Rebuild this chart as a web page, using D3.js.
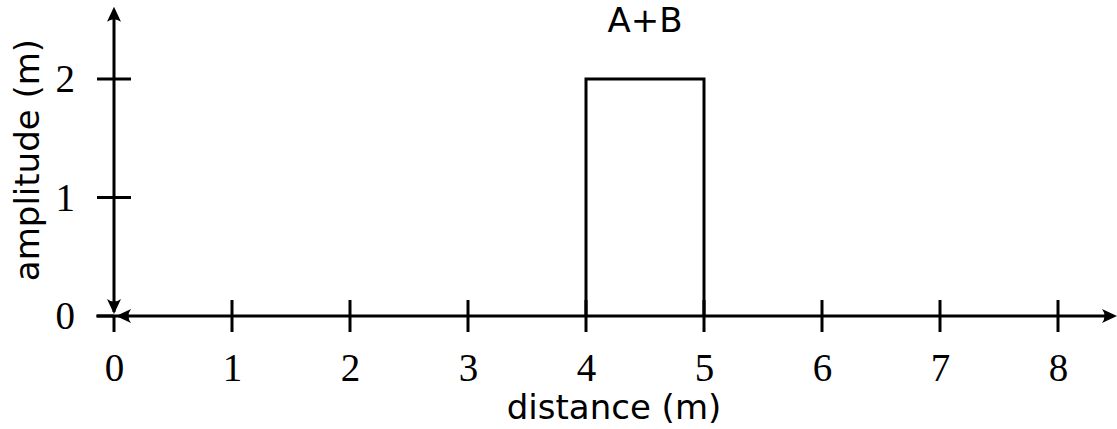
<!DOCTYPE html>
<html><head><meta charset="utf-8">
<script src="https://cdn.jsdelivr.net/npm/d3@7"></script>
<style>body{margin:0;background:#fff}svg{display:block}</style>
</head><body>
<script>
const xTicks = [0,1,2,3,4,5,6,7,8];
const yTicks = [0,1,2];
const pulseX = [4,4,5,5];
const pulseY = [0,2,2,0];
const title = "A+B";
const xLabel = "distance (m)";
const yLabel = "amplitude (m)";

const W=1117,H=429;
const svg=d3.select("body").append("svg").attr("width",W).attr("height",H);
const x=d3.scaleLinear().domain([0,8]).range([114,1058]);
const y=d3.scaleLinear().domain([0,2]).range([316,79]);
const lw=3;

// axes lines
svg.append("line").attr("x1",x(-0.15)).attr("x2",x(8.5)-4).attr("y1",y(0)).attr("y2",y(0)).attr("stroke","#000").attr("stroke-width",lw);
svg.append("line").attr("x1",x(0)).attr("x2",x(0)).attr("y1",y(0)-4).attr("y2",y(2.61)+4).attr("stroke","#000").attr("stroke-width",lw);

function arrow(tx,ty,ang){
  const p="M0,0 L-15,-7 Q-10,0 -15,7 Z";
  svg.append("path").attr("d",p).attr("fill","#000")
    .attr("transform",`translate(${tx},${ty}) rotate(${ang})`);
}
arrow(x(8.5),y(0),0);
arrow(x(0)+2,y(0),180);
arrow(x(0),y(2.61),-90);
arrow(x(0),y(0)-2,90);

// ticks
const xt=svg.append("g").attr("transform",`translate(0,${y(0)})`)
  .call(d3.axisBottom(x).tickValues(xTicks).tickSize(0).tickFormat(d3.format("d")));
xt.select(".domain").remove();
xt.selectAll("text").attr("font-family","Liberation Serif, serif").attr("font-size",39).attr("fill","#000").attr("y",52).attr("dy","0.33em");
svg.append("g").selectAll("line").data(xTicks.filter(d=>d>0)).join("line")
  .attr("x1",d=>x(d)).attr("x2",d=>x(d)).attr("y1",y(0)-16).attr("y2",y(0)+16).attr("stroke","#000").attr("stroke-width",lw);
svg.append("line").attr("x1",x(0)).attr("x2",x(0)).attr("y1",y(0)).attr("y2",y(0)+16).attr("stroke","#000").attr("stroke-width",lw);

const yt=svg.append("g").attr("transform",`translate(${x(0)},0)`)
  .call(d3.axisLeft(y).tickValues(yTicks).tickSize(0).tickFormat(d3.format("d")));
yt.select(".domain").remove();
yt.selectAll("text").attr("font-family","Liberation Serif, serif").attr("font-size",39).attr("fill","#000").attr("x",-39).attr("dy","0.33em");
svg.append("g").selectAll("line").data(yTicks.filter(d=>d>0)).join("line")
  .attr("x1",x(0)-17).attr("x2",x(0)+17).attr("y1",d=>y(d)).attr("y2",d=>y(d)).attr("stroke","#000").attr("stroke-width",lw);
svg.append("line").attr("x1",x(0)-17).attr("x2",x(0)).attr("y1",y(0)).attr("y2",y(0)).attr("stroke","#000").attr("stroke-width",lw);

// pulse
const pts=pulseX.map((v,i)=>[x(v),y(pulseY[i])]);
svg.append("path").attr("d",d3.line()(pts)).attr("fill","none").attr("stroke","#000").attr("stroke-width",lw).attr("stroke-linejoin","miter");

// labels
svg.append("text").attr("x",x(4.5)).attr("y",32).attr("text-anchor","middle").attr("font-family","DejaVu Sans, sans-serif").attr("font-size",34).text(title);
svg.append("text").attr("x",614).attr("y",419).attr("text-anchor","middle").attr("font-family","DejaVu Sans, sans-serif").attr("font-size",34).text(xLabel);
svg.append("text").attr("transform","translate(39,160) rotate(-90)").attr("text-anchor","middle").attr("font-family","DejaVu Sans, sans-serif").attr("font-size",34).text(yLabel);
</script>
</body></html>
